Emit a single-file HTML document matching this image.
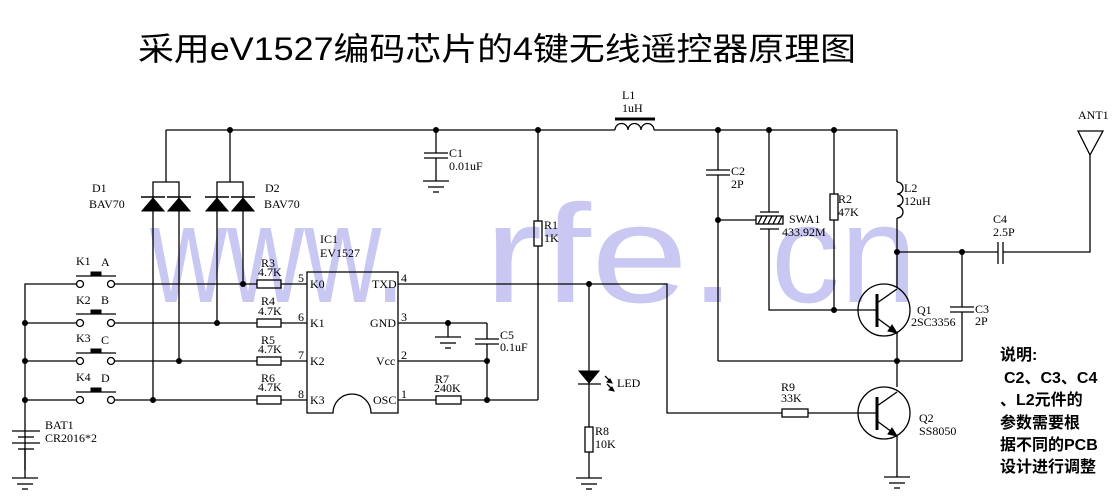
<!DOCTYPE html>
<html><head><meta charset="utf-8"><style>
html,body{margin:0;padding:0;background:#fff;}
svg{display:block}
.t{font-family:"Liberation Serif",serif;font-size:12px;fill:#000}
</style></head><body>
<svg width="1119" height="503" viewBox="0 0 1119 503" xmlns="http://www.w3.org/2000/svg">
<rect width="1119" height="503" fill="#fff"/>
<!-- watermark -->
<g font-family="Liberation Sans, sans-serif" font-size="140" fill="#c8c8f2">
<text x="150" y="302" textLength="255" lengthAdjust="spacingAndGlyphs">www.</text>
<text x="484" y="302" textLength="253" lengthAdjust="spacingAndGlyphs">rfe.</text>
<text x="771" y="302" textLength="146" lengthAdjust="spacingAndGlyphs">cn</text>
</g>
<!-- title -->
<text x="138" y="60" font-family="Liberation Sans, 'Noto Sans CJK SC', sans-serif" font-size="32" textLength="718" lengthAdjust="spacingAndGlyphs" fill="#000">采用eV1527编码芯片的4键无线遥控器原理图</text>

<g stroke="#000" stroke-width="1.3" fill="none">
<!-- top rail -->
<line x1="166" y1="130" x2="615" y2="130"/>
<line x1="654" y1="130" x2="897" y2="130"/>
<!-- L1 -->
<path d="M615 130 a6.5 6.5 0 0 1 13 0 a6.5 6.5 0 0 1 13 0 a6.5 6.5 0 0 1 13 0"/>
<line x1="615" y1="119" x2="655" y2="119" stroke-width="3"/>
<!-- D1 D2 brackets -->
<line x1="166" y1="130" x2="166" y2="182"/>
<path d="M153 197 V182 H179 V197"/>
<line x1="230" y1="130" x2="230" y2="182"/>
<path d="M217 197 V182 H243 V197"/>
<!-- diode verticals -->
<line x1="153" y1="197" x2="153" y2="400"/>
<line x1="179" y1="197" x2="179" y2="361"/>
<line x1="217" y1="197" x2="217" y2="323"/>
<line x1="243" y1="197" x2="243" y2="284"/>
<!-- rows -->
<path d="M25 470 V284 H76"/>
<line x1="25" y1="323" x2="76" y2="323"/>
<line x1="25" y1="361" x2="76" y2="361"/>
<line x1="25" y1="400" x2="76" y2="400"/>
<line x1="115" y1="284" x2="257" y2="284"/><line x1="281" y1="284" x2="307" y2="284"/>
<line x1="115" y1="323" x2="257" y2="323"/><line x1="281" y1="323" x2="307" y2="323"/>
<line x1="115" y1="361" x2="257" y2="361"/><line x1="281" y1="361" x2="307" y2="361"/>
<line x1="115" y1="400" x2="257" y2="400"/><line x1="281" y1="400" x2="307" y2="400"/>
<!-- switches -->
<g>
<circle cx="80" cy="284" r="3.5"/><circle cx="111" cy="284" r="3.5"/>
<circle cx="80" cy="323" r="3.5"/><circle cx="111" cy="323" r="3.5"/>
<circle cx="80" cy="361" r="3.5"/><circle cx="111" cy="361" r="3.5"/>
<circle cx="80" cy="400" r="3.5"/><circle cx="111" cy="400" r="3.5"/>
<line x1="76" y1="276" x2="116" y2="276"/><line x1="76" y1="314" x2="116" y2="314"/>
<line x1="76" y1="353" x2="116" y2="353"/><line x1="76" y1="392" x2="116" y2="392"/>
</g>
<!-- resistors R3-R6 -->
<rect x="257" y="280" width="24" height="8"/>
<rect x="257" y="319" width="24" height="8"/>
<rect x="257" y="357" width="24" height="8"/>
<rect x="257" y="396" width="24" height="8"/>
<!-- IC -->
<path d="M307 272 H398 V413 H371 A19 19 0 0 0 333 413 H307 Z"/>
<!-- battery -->
<line x1="25" y1="470" x2="25" y2="478"/>
<!-- TXD -->
<path d="M398 284 H667 V413 H782"/>
<line x1="808" y1="413" x2="877" y2="413"/>
<rect x="782" y="409" width="26" height="8" fill="#fff"/>
<!-- GND pin -->
<line x1="398" y1="323" x2="487" y2="323"/>
<line x1="448" y1="323" x2="448" y2="337"/>
<line x1="487" y1="323" x2="487" y2="339"/>
<line x1="475" y1="339" x2="499" y2="339"/><line x1="475" y1="344" x2="499" y2="344"/>
<line x1="487" y1="344" x2="487" y2="400"/>
<line x1="398" y1="361" x2="487" y2="361"/>
<line x1="398" y1="400" x2="436" y2="400"/><line x1="461" y1="400" x2="538" y2="400"/>
<rect x="436" y="396" width="25" height="8"/>
<!-- R1 -->
<line x1="538" y1="130" x2="538" y2="221"/><line x1="538" y1="246" x2="538" y2="400"/>
<rect x="534" y="221" width="8" height="25"/>
<!-- C1 -->
<line x1="436" y1="130" x2="436" y2="153"/>
<line x1="424" y1="153" x2="448" y2="153"/><line x1="424" y1="158" x2="448" y2="158"/>
<line x1="436" y1="158" x2="436" y2="181"/>
<!-- LED -->
<line x1="589" y1="284" x2="589" y2="427"/>
<rect x="585" y="427" width="8" height="25" fill="#fff"/>
<line x1="589" y1="452" x2="589" y2="478"/>
<line x1="578" y1="384" x2="601" y2="384"/>
<line x1="605" y1="376" x2="612" y2="383"/><line x1="607" y1="384" x2="614" y2="391"/>
<!-- right section -->
<line x1="718" y1="130" x2="718" y2="170"/>
<line x1="706" y1="170" x2="730" y2="170"/><line x1="706" y1="175" x2="730" y2="175"/>
<line x1="718" y1="175" x2="718" y2="361"/>
<line x1="718" y1="361" x2="962" y2="361"/>
<line x1="718" y1="220" x2="756" y2="220"/>
<line x1="769" y1="130" x2="769" y2="212"/>
<line x1="760" y1="212" x2="779" y2="212"/><line x1="760" y1="229" x2="779" y2="229"/>
<rect x="756" y="216" width="27" height="8"/>
<path d="M758 224 l4 -8 M763 224 l4 -8 M768 224 l4 -8 M773 224 l4 -8 M778 224 l4 -8"/>
<path d="M769 229 V310 H877"/>
<line x1="834" y1="130" x2="834" y2="194"/><rect x="830" y="194" width="8" height="26"/><line x1="834" y1="220" x2="834" y2="310"/>
<!-- L2 -->
<line x1="897" y1="130" x2="897" y2="182"/>
<path d="M897 182 a6 6 0 0 1 0 12 a6 6 0 0 1 0 12 a6 6 0 0 1 0 12"/>
<line x1="897" y1="218" x2="897" y2="288"/>
<!-- Q1 -->
<circle cx="884" cy="310" r="26"/>
<line x1="877" y1="294" x2="877" y2="327" stroke-width="3"/>
<line x1="877" y1="303" x2="897" y2="289"/>
<line x1="877" y1="318" x2="896" y2="332"/>
<line x1="897" y1="332" x2="897" y2="387"/>
<!-- C4 line -->
<line x1="897" y1="252" x2="998" y2="252"/>
<line x1="998" y1="242" x2="998" y2="264"/><line x1="1003" y1="242" x2="1003" y2="264"/>
<path d="M1003 252 H1090 V155"/>
<path d="M1078 131 H1103 L1090 155 Z"/>
<!-- C3 -->
<line x1="962" y1="252" x2="962" y2="307"/>
<line x1="950" y1="307" x2="974" y2="307"/><line x1="950" y1="312" x2="974" y2="312"/>
<line x1="962" y1="312" x2="962" y2="361"/>
<!-- Q2 -->
<circle cx="884" cy="413" r="26"/>
<line x1="877" y1="397" x2="877" y2="430" stroke-width="3"/>
<line x1="877" y1="406" x2="897" y2="392"/>
<line x1="877" y1="421" x2="896" y2="435"/>
<line x1="897" y1="435" x2="897" y2="477"/>
</g>
<!-- filled shapes -->
<g fill="#000" stroke="#000" stroke-width="1">
<path d="M142 211 L153 198 L164 211 Z"/><line x1="141" y1="197" x2="165" y2="197" stroke-width="1.5"/>
<path d="M168 211 L179 198 L190 211 Z"/><line x1="167" y1="197" x2="191" y2="197" stroke-width="1.5"/>
<path d="M206 211 L217 198 L228 211 Z"/><line x1="205" y1="197" x2="229" y2="197" stroke-width="1.5"/>
<path d="M232 211 L243 198 L254 211 Z"/><line x1="231" y1="197" x2="255" y2="197" stroke-width="1.5"/>
<rect x="91" y="272" width="10" height="4"/><rect x="91" y="310" width="10" height="4"/>
<rect x="91" y="349" width="10" height="4"/><rect x="91" y="388" width="10" height="4"/>
<path d="M579 371 H599 L589 383 Z"/>
<path d="M612 383 l-5 -1 l3 -3 Z"/><path d="M614 391 l-5 -1 l3 -3 Z"/>
<path d="M897 333 l-9 -2 l4 -6 Z"/><path d="M897 436 l-9 -2 l4 -6 Z"/>
<g stroke="none">
<circle cx="230" cy="130" r="3"/><circle cx="436" cy="130" r="3"/><circle cx="538" cy="130" r="3"/>
<circle cx="718" cy="130" r="3"/><circle cx="769" cy="130" r="3"/><circle cx="834" cy="130" r="3"/>
<circle cx="25" cy="323" r="3"/><circle cx="25" cy="361" r="3"/><circle cx="25" cy="400" r="3"/>
<circle cx="243" cy="284" r="3"/><circle cx="217" cy="323" r="3"/><circle cx="179" cy="361" r="3"/><circle cx="153" cy="400" r="3"/>
<circle cx="589" cy="284" r="3"/><circle cx="448" cy="323" r="3"/><circle cx="487" cy="361" r="3"/><circle cx="487" cy="400" r="3"/>
<circle cx="718" cy="220" r="3"/><circle cx="834" cy="310" r="3"/><circle cx="897" cy="252" r="3"/><circle cx="962" cy="252" r="3"/>
<circle cx="897" cy="361" r="3"/>
</g>
</g>
<!-- grounds & battery -->
<g stroke="#000" stroke-width="1.3">
<line x1="12" y1="431" x2="40" y2="431"/><line x1="18" y1="437" x2="34" y2="437"/>
<line x1="12" y1="443" x2="40" y2="443"/><line x1="18" y1="449" x2="34" y2="449"/>
<line x1="25" y1="449" x2="25" y2="470"/>
<line x1="12" y1="478" x2="38" y2="478"/><line x1="17" y1="484" x2="33" y2="484"/><line x1="22" y1="489" x2="28" y2="489"/>
<line x1="423" y1="181" x2="449" y2="181"/><line x1="428" y1="187" x2="444" y2="187"/><line x1="433" y1="192" x2="439" y2="192"/>
<line x1="435" y1="337" x2="461" y2="337"/><line x1="440" y1="343" x2="456" y2="343"/><line x1="445" y1="348" x2="451" y2="348"/>
<line x1="576" y1="478" x2="602" y2="478"/><line x1="581" y1="484" x2="597" y2="484"/><line x1="586" y1="489" x2="592" y2="489"/>
<line x1="884" y1="477" x2="910" y2="477"/><line x1="889" y1="483" x2="905" y2="483"/><line x1="894" y1="488" x2="900" y2="488"/>
</g>
<!-- labels -->
<g class="t">
<text class="t" x="92" y="192">D1</text><text class="t" x="89" y="208">BAV70</text>
<text class="t" x="265" y="192">D2</text><text class="t" x="264" y="208">BAV70</text>
<text class="t" x="76" y="265">K1</text><text class="t" x="101" y="266">A</text>
<text class="t" x="76" y="304">K2</text><text class="t" x="101" y="304">B</text>
<text class="t" x="76" y="342">K3</text><text class="t" x="101" y="344">C</text>
<text class="t" x="76" y="381">K4</text><text class="t" x="101" y="382">D</text>
<text class="t" x="261" y="267">R3</text><text class="t" x="258" y="276">4.7K</text>
<text class="t" x="261" y="305">R4</text><text class="t" x="258" y="315">4.7K</text>
<text class="t" x="261" y="344">R5</text><text class="t" x="258" y="353">4.7K</text>
<text class="t" x="261" y="382">R6</text><text class="t" x="258" y="391">4.7K</text>
<text class="t" x="320" y="243">IC1</text><text class="t" x="320" y="257">EV1527</text>
<text class="t" x="298" y="282">5</text><text class="t" x="298" y="321">6</text><text class="t" x="298" y="359">7</text><text class="t" x="298" y="398">8</text>
<text class="t" x="310" y="288">K0</text><text class="t" x="310" y="327">K1</text><text class="t" x="310" y="365">K2</text><text class="t" x="310" y="404">K3</text>
<text class="t" x="372" y="288">TXD</text><text class="t" x="370" y="327">GND</text><text class="t" x="376" y="365">Vcc</text><text class="t" x="373" y="404">OSC</text>
<text class="t" x="401" y="282">4</text><text class="t" x="401" y="321">3</text><text class="t" x="401" y="359">2</text><text class="t" x="401" y="398">1</text>
<text class="t" x="45" y="429">BAT1</text><text class="t" x="45" y="442">CR2016*2</text>
<text class="t" x="449" y="157">C1</text><text class="t" x="449" y="170">0.01uF</text>
<text class="t" x="622" y="99">L1</text><text class="t" x="622" y="112">1uH</text>
<text class="t" x="544" y="229">R1</text><text class="t" x="544" y="242">1K</text>
<text class="t" x="500" y="339">C5</text><text class="t" x="500" y="351">0.1uF</text>
<text class="t" x="435" y="383">R7</text><text class="t" x="434" y="392">240K</text>
<text class="t" x="617" y="387">LED</text>
<text class="t" x="595" y="435">R8</text><text class="t" x="595" y="448">10K</text>
<text class="t" x="731" y="175">C2</text><text class="t" x="731" y="188">2P</text>
<text class="t" x="789" y="223">SWA1</text><text class="t" x="782" y="236">433.92M</text>
<text class="t" x="838" y="203">R2</text><text class="t" x="838" y="216">47K</text>
<text class="t" x="904" y="192">L2</text><text class="t" x="904" y="205">12uH</text>
<text class="t" x="993" y="223">C4</text><text class="t" x="993" y="236">2.5P</text>
<text class="t" x="1078" y="119">ANT1</text>
<text class="t" x="917" y="314">Q1</text><text class="t" x="911" y="326">2SC3356</text>
<text class="t" x="975" y="313">C3</text><text class="t" x="975" y="325">2P</text>
<text class="t" x="781" y="391">R9</text><text class="t" x="781" y="402">33K</text>
<text class="t" x="919" y="422">Q2</text><text class="t" x="919" y="435">SS8050</text>
</g>
<g font-family="Liberation Sans, 'Noto Sans CJK SC', sans-serif" font-size="16" font-weight="bold" fill="#000">
<text x="1000" y="360">说明:</text>
<text x="1004" y="383">C2、C3、C4</text>
<text x="1000" y="405">、L2元件的</text>
<text x="1000" y="428">参数需要根</text>
<text x="1000" y="450">据不同的PCB</text>
<text x="1000" y="472">设计进行调整</text>
</g>
</svg>
</body></html>
